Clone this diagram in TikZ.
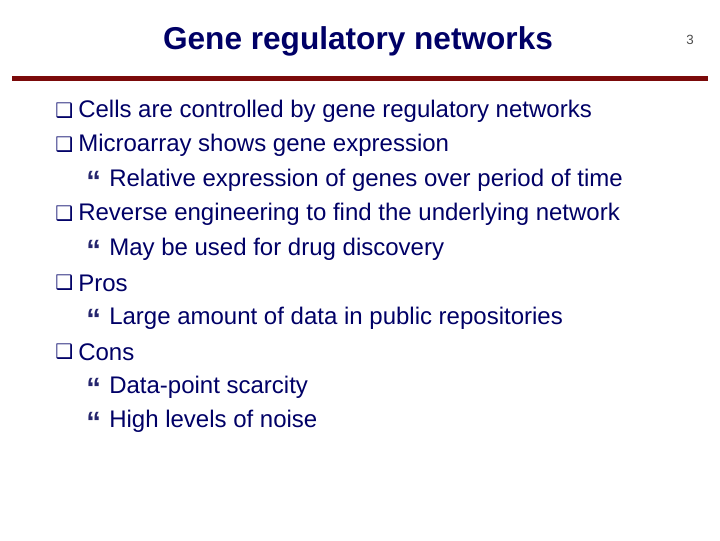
\documentclass[tikz,border=0pt]{standalone}
\usepackage{fontspec}
\setmainfont{Liberation Sans}
\newfontfamily\dvs{DejaVu Sans}
\definecolor{navy}{HTML}{000066}
\definecolor{rule}{HTML}{7B0A0A}
\begin{document}
\begin{tikzpicture}[x=0.75pt,y=-0.75pt,
  txt/.style={anchor=west,inner sep=0pt,text=navy,font=\fontsize{18}{20}\selectfont},
  bul/.style={anchor=west,inner sep=0pt,text=navy,font=\dvs\fontsize{15}{16}\selectfont},
  sbul/.style={anchor=west,inner sep=0pt,text=navy!70!gray,font=\bfseries\fontsize{22}{22}\selectfont}]
\useasboundingbox (0,0) rectangle (720,540);
\node[inner sep=0pt,text=navy,font=\bfseries\fontsize{23.7}{26}\selectfont] (title) at (358,41) {Gene regulatory networks};
\node[inner sep=0pt,text=black!70,font=\fontsize{10}{11}\selectfont] (pg) at (690,40) {3};
\fill[rule] (12,75.5) rectangle (708,80.5);
\foreach \y/\t [count=\i] in {109/Cells are controlled by gene regulatory networks,143/Microarray shows gene expression,212/Reverse engineering to find the underlying network,281/Pros,350/Cons}{
  \node[bul] (b\i) at (55,\y+2) {❑};
  \node[txt] (t\i) at (78,\y+2) {\t};
}
\foreach \y/\t [count=\i] in {178/Relative expression of genes over period of time,247/May be used for drug discovery,316/Large amount of data in public repositories,385/Data-point scarcity,419/High levels of noise}{
  \node[sbul] (sb\i) at (86,\y+3) {“};
  \node[txt] (st\i) at (109,\y+2) {\t};
}
\end{tikzpicture}
\end{document}
